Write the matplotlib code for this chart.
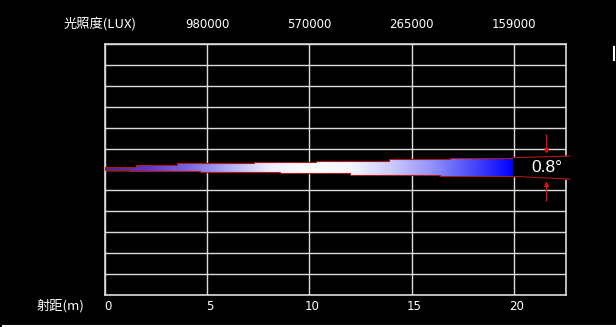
import matplotlib
matplotlib.use('agg')
import matplotlib.pyplot as plt
from matplotlib.colors import LinearSegmentedColormap
from matplotlib.patches import Polygon
from matplotlib.lines import Line2D
import numpy as np

# axis values
dist_ticks = [0, 5, 10, 15, 20]
lux_pos = [5, 10, 15, 20]
lux_labels = ['980000', '570000', '265000', '159000']
angle_label = '0.8°'

# beam outline (stepped), distance in m, height in grid rows
top_x = [0, 1.5, 3.5, 7.3, 10.3, 13.9, 16.9, 20]
top_y = [0.14, 0.22, 0.29, 0.35, 0.43, 0.49, 0.57]
bot_x = [0, 1.2, 4.65, 8.55, 12.0, 16.4, 20]
bot_y = [0.0, -0.07, -0.13, -0.18, -0.24, -0.33]

plt.rcParams['font.family'] = ['Noto Sans CJK SC', 'DejaVu Sans']

fig = plt.figure(figsize=(6.16, 3.27), dpi=100, facecolor='black')
ax = fig.add_axes([105/616, 1-295/327, (566-105)/616, (295-44)/327])
ax.set_facecolor('black')
xmax = 22.55
ax.set_xlim(0, xmax)
ax.set_ylim(-6, 6)

gc = '#dcdcdc'
for x in dist_ticks:
    ax.axvline(x, color=gc, lw=1)
for y in range(-6, 7):
    ax.axhline(y, color=gc, lw=1)
for s in ax.spines.values():
    s.set_color(gc)
    s.set_linewidth(1.2)
ax.set_xticks([])
ax.set_yticks([])

# build stepped polygon
pts = []
for i in range(len(top_y)):
    pts.append((top_x[i], top_y[i]))
    pts.append((top_x[i+1], top_y[i]))
bpts = []
for i in range(len(bot_y)):
    bpts.append((bot_x[i], bot_y[i]))
    bpts.append((bot_x[i+1], bot_y[i]))
pts = pts + bpts[::-1]

cmap = LinearSegmentedColormap.from_list('beam', [
    (0.0, '#4a2494'), (0.1, '#6036c4'), (0.2, '#7a66de'), (0.3, '#b4acf0'),
    (0.4, '#eeeafc'), (0.5, '#ffffff'), (0.6, '#f6f6ff'), (0.7, '#cccbfc'),
    (0.8, '#9292fa'), (0.9, '#4a4af8'), (1.0, '#0000ff')])
grad = np.linspace(0, 1, 256).reshape(1, -1)
poly = Polygon(pts, closed=True, facecolor='none', edgecolor='#b01818', lw=0.8, zorder=4)
ax.add_patch(poly)
im = ax.imshow(grad, extent=[0, 20, -1, 1], cmap=cmap, aspect='auto', zorder=3,
               interpolation='bilinear')
im.set_clip_path(poly)

# angle marker
ty0, ty1 = top_y[-1], top_y[-1] + 0.07
by0, by1 = bot_y[-1], bot_y[-1] - 0.13
ax.fill([20, xmax + 0.2, xmax + 0.2, 20], [ty0, ty1, by1, by0], color='black', zorder=5, clip_on=False)
ax.plot([20, xmax + 0.2], [ty0, ty1], color='#b01818', lw=0.8, zorder=6, clip_on=False)
ax.plot([20, xmax + 0.2], [by0, by1], color='#b01818', lw=0.8, zorder=6, clip_on=False)
arr_x = 21.6
ax.annotate('', xy=(arr_x, ty0 + 0.05), xytext=(arr_x, 1.8),
            arrowprops=dict(arrowstyle='-|>', color='#e01010', lw=0.9, mutation_scale=7), zorder=6)
ax.annotate('', xy=(arr_x, by0 - 0.1), xytext=(arr_x, -1.65),
            arrowprops=dict(arrowstyle='-|>', color='#e01010', lw=0.9, mutation_scale=7), zorder=6)
ax.text(21.6, 0.1, angle_label, color='white', fontsize=12.5, ha='center', va='center',
        family='Liberation Sans', zorder=7)

# labels
for x in dist_ticks:
    fig.text((105 + x * 20.45) / 616 + 0.004, 1 - 307/327, str(x), color='white',
             fontsize=8.5, ha='center', va='center', family='DejaVu Sans')
for x, lab in zip(lux_pos, lux_labels):
    fig.text((105 + x * 20.45) / 616, 1 - 24/327, lab, color='white',
             fontsize=8.5, ha='center', va='center', family='DejaVu Sans')
fig.text(100/616, 1 - 24/327, '光照度(LUX)', color='white', fontsize=9.5,
         ha='center', va='center')
fig.text(61/616, 1 - 306/327, '射距(m)', color='white', fontsize=9.5,
         ha='center', va='center')

# frame bits at edges
fig.add_artist(Line2D([0.005, 1], [0.003, 0.003], color='white', lw=1.5))
fig.add_artist(Line2D([0.996, 0.996], [1 - 47/327, 1 - 60/327], color='white', lw=1.5))

fig.savefig('out.png', dpi=100, facecolor='black')
